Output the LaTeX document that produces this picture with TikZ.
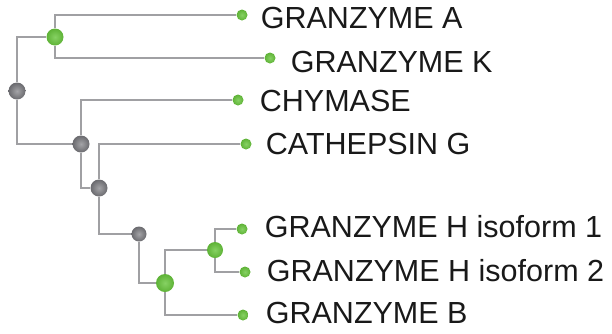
\documentclass[tikz,border=0pt]{standalone}
\usepackage{fontspec}
\setmainfont{Liberation Sans}
\usetikzlibrary{positioning}

\definecolor{treegray}{RGB}{160,160,163}
\definecolor{leafgreen}{RGB}{104,198,60}
\definecolor{knotgray}{RGB}{125,125,130}

\begin{document}
\begin{tikzpicture}[x=1pt,y=-1pt]
\tikzset{
  branch/.style={draw=treegray,line width=2.2pt},
  leaf/.style={circle,inner sep=0pt,minimum size=11pt,shading=radial,
    inner color=leafgreen!80!white,outer color=leafgreen!90!black},
  greenknot/.style={leaf,minimum size=17pt},
  grayknot/.style={circle,inner sep=0pt,minimum size=17pt,shading=radial,
    inner color=knotgray!70!white,outer color=knotgray!85!black},
  protein/.style={inner sep=0pt,font=\fontsize{30.5}{36}\selectfont,text=black!90}
}
\useasboundingbox (0,0) rectangle (612,333);

% inner nodes of the tree
\node[grayknot] (root) at (17,91) {};
\node[greenknot] (ak) at (55,37) {};
\node[grayknot] (k1) at (81,144) {};
\node[grayknot] (k2) at (99,188) {};
\node[grayknot,minimum size=15pt] (k3) at (139,234) {};
\node[greenknot,minimum size=18pt] (gb) at (165,283) {};
\node[greenknot,minimum size=16pt] (gh) at (215,250) {};

% leaves
\node[leaf] (gza) at (242,15) {};
\node[leaf] (gzk) at (270,58) {};
\node[leaf] (chy) at (238,100) {};
\node[leaf] (cat) at (246,144) {};
\node[leaf] (gh1) at (242,229) {};
\node[leaf] (gh2) at (245,272) {};
\node[leaf] (gzb) at (243,315) {};

\draw[branch] (root) |- (ak) (ak) |- (gza) (ak) |- (gzk)
  (root) |- (k1) (k1) |- (chy) (k1) |- (k2)
  (k2) |- (cat) (k2) |- (k3) (k3) |- (gb)
  (gb) |- (gh) (gb) |- (gzb) (gh) |- (gh1) (gh) |- (gh2);

% names
\node[protein,right=13pt of gza,yshift=-3pt] (lgza) {GRANZYME A};
\node[protein,right=15pt of gzk,yshift=-4pt] (lgzk) {GRANZYME K};
\node[protein,right=16pt of chy,yshift=-1pt] (lchy) {CHYMASE};
\node[protein,right=14pt of cat] (lcat) {CATHEPSIN G};
\node[protein,right=17pt of gh1,yshift=2pt] (lgh1) {GRANZYME H isoform 1};
\node[protein,right=16pt of gh2,yshift=1pt] (lgh2) {GRANZYME H isoform 2};
\node[protein,right=17pt of gzb,yshift=2pt] (lgzb) {GRANZYME B};
\end{tikzpicture}
\end{document}
